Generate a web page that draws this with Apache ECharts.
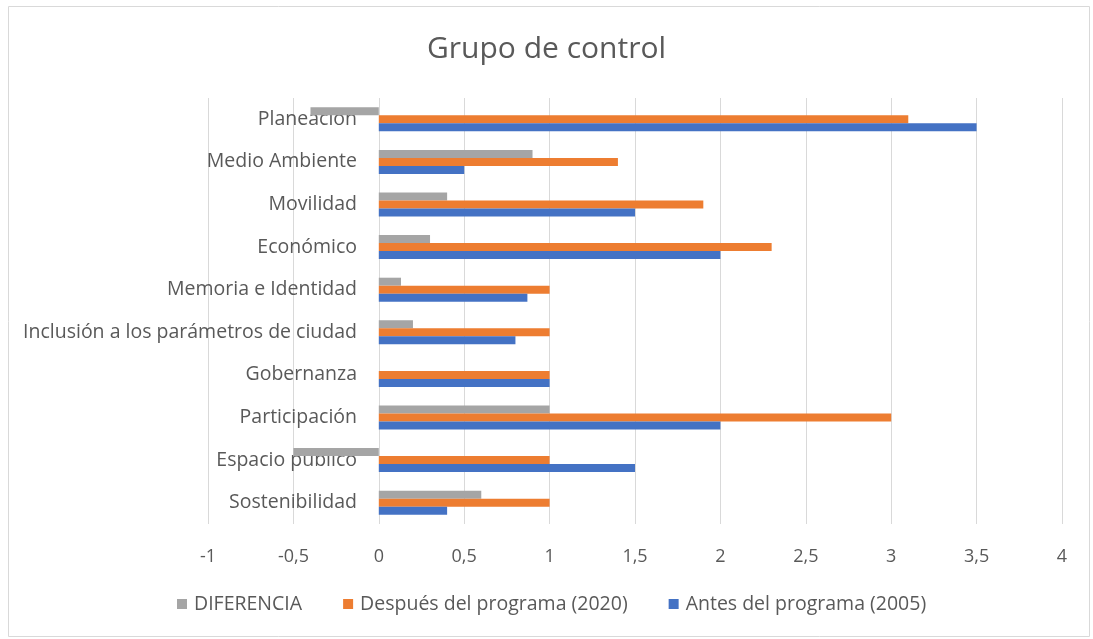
<!DOCTYPE html>
<html>
<head>
<meta charset="utf-8">
<script src="https://cdn.jsdelivr.net/npm/echarts@6/dist/echarts.min.js"></script>
<style>
  html, body { margin: 0; padding: 0; background: #fff; }
  #chart { width: 1093px; height: 639px; }
</style>
</head>
<body>
<div id="chart"></div>
<script>
// Categories listed top to bottom
const categories = [
  'Planeación',
  'Medio Ambiente',
  'Movilidad',
  'Económico',
  'Memoria e Identidad',
  'Inclusión a los parámetros de ciudad',
  'Gobernanza',
  'Participación',
  'Espacio público',
  'Sostenibilidad'
];
const diferencia = [-0.4, 0.9, 0.4, 0.3, 0.13, 0.2, 0, 1, -0.5, 0.6];
const despues2020 = [3.1, 1.4, 1.9, 2.3, 1, 1, 1, 3, 1, 1];
const antes2005 = [3.5, 0.5, 1.5, 2, 0.87, 0.8, 1, 2, 1.5, 0.4];
const seriesNames = ['DIFERENCIA', 'Después del programa (2020)', 'Antes del programa (2005)'];

const FONT = '"Open Sans", sans-serif';
const TEXT = '#595959';

const chart = echarts.init(document.getElementById('chart'));
chart.setOption({
  animation: false,
  textStyle: { fontFamily: FONT },
  title: {
    text: 'Grupo de control',
    left: 'center',
    top: 29,
    textStyle: { fontFamily: FONT, fontSize: 30, fontWeight: 'normal', color: TEXT }
  },
  graphic: [{
    type: 'rect',
    shape: { x: 8.5, y: 6.5, width: 1081, height: 630 },
    style: { fill: 'none', stroke: '#d9d9d9', lineWidth: 1 },
    silent: true
  }],
  legend: {
    bottom: 20,
    left: 172,
    itemWidth: 10,
    itemHeight: 10,
    itemGap: 41,
    icon: 'rect',
    textStyle: { fontFamily: FONT, fontSize: 19.5, color: TEXT, padding: [0, 0, 0, 2] },
    data: seriesNames
  },
  grid: { left: 208, right: 31, top: 98, bottom: 115, containLabel: false, outerBoundsMode: 'none' },
  xAxis: {
    type: 'value',
    min: -1,
    max: 4,
    interval: 0.5,
    axisLine: { show: false },
    axisTick: { show: false },
    splitLine: { lineStyle: { color: '#d9d9d9', width: 1 } },
    axisLabel: {
      margin: 24,
      fontSize: 18,
      color: TEXT,
      fontFamily: FONT,
      formatter: v => String(v).replace('.', ',')
    }
  },
  yAxis: {
    type: 'category',
    inverse: true,
    data: categories,
    axisLine: { show: false },
    axisTick: { show: false },
    // category names sit just left of the zero line
    axisLabel: { margin: -149, fontSize: 19.5, color: TEXT, fontFamily: FONT }
  },
  series: [
    { name: seriesNames[0], type: 'bar', data: diferencia, barWidth: 8, barGap: '0%', itemStyle: { color: '#A5A5A5' } },
    { name: seriesNames[1], type: 'bar', data: despues2020, barWidth: 8, barGap: '0%', itemStyle: { color: '#ED7D31' } },
    { name: seriesNames[2], type: 'bar', data: antes2005, barWidth: 8, barGap: '0%', itemStyle: { color: '#4472C4' } }
  ]
});
</script>
</body>
</html>
